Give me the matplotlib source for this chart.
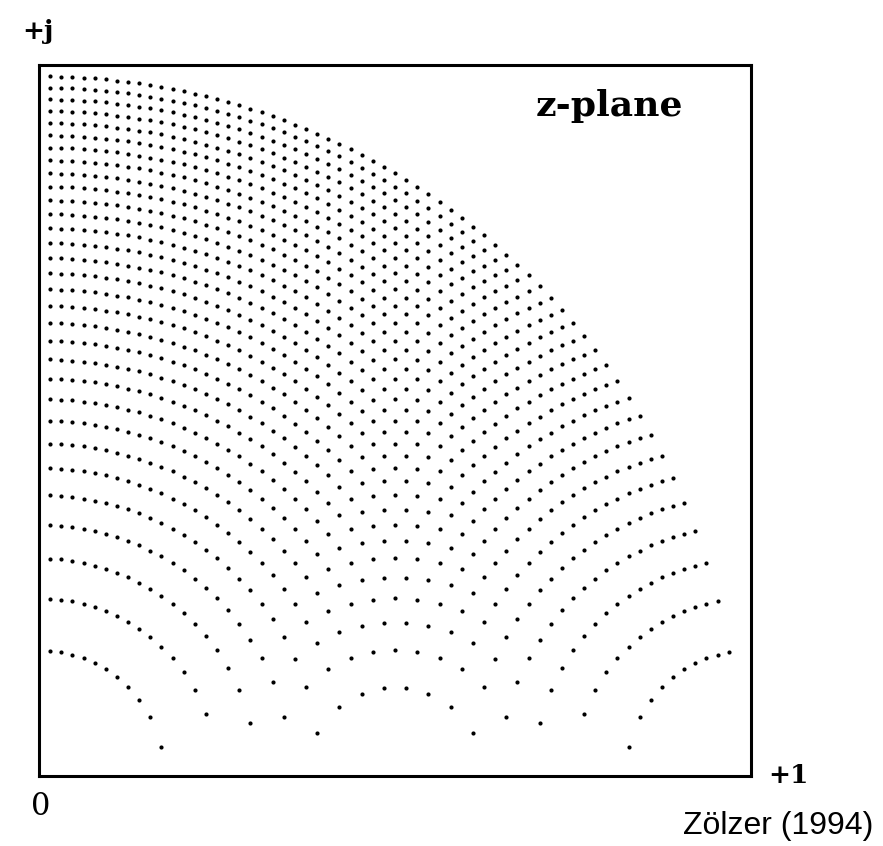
import matplotlib
matplotlib.use("Agg")
import matplotlib.pyplot as plt
import numpy as np

# Direct-form 2nd-order section, coefficients quantised with step 1/32:
#   a1 = -2 r cos(theta) = -n/32,  a2 = r^2 = k/32
n_steps = np.arange(1, 64)      # a1 index -> Re(z) = n/64
k_steps = np.arange(1, 32)      # a2 index -> |z|^2 = k/32
q = 32

re_list = []
im_list = []
for k in k_steps:
    for n in n_steps:
        re = n / (2 * q)
        im2 = k / q - re ** 2
        if im2 > 0:
            re_list.append(re)
            im_list.append(np.sqrt(im2))

fig = plt.figure(figsize=(8.83, 8.46), dpi=100)
ax = fig.add_axes([0.0442, 0.0827, 0.8063, 0.8404])

ax.plot(re_list, im_list, 'o', color='black', markersize=3.0, markeredgewidth=0)

ax.set_xlim(0, 1)
ax.set_ylim(0, 1)
ax.set_xticks([])
ax.set_yticks([])
for sp in ax.spines.values():
    sp.set_linewidth(2.2)

serif = ['DejaVu Serif']
fig.text(609 / 883, 1 - 106 / 846, "z-plane", ha='center', va='center',
         fontsize=26, fontweight='bold', family=serif)

fig.text(38 / 883, 1 - 32 / 846, "+j", ha='center', va='center', fontsize=19,
         fontweight='bold', family=serif)
fig.text(788 / 883, 1 - 775 / 846, "+1", ha='center', va='center', fontsize=19,
         fontweight='bold', family=serif)
fig.text(41 / 883, 1 - 806 / 846, "0", ha='center', va='center', fontsize=22,
         family=serif)
fig.text(778 / 883, 1 - 826 / 846, "Zölzer (1994)", ha='center', va='center',
         fontsize=23, family=['Liberation Sans', 'DejaVu Sans'])

fig.savefig("out.png", dpi=100)
